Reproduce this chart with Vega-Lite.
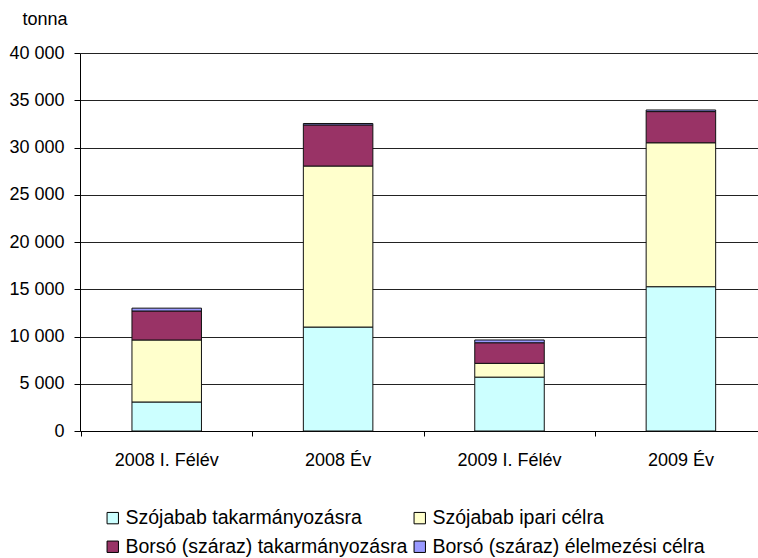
{
  "$schema": "https://vega.github.io/schema/vega-lite/v6.json",
  "width": 678,
  "height": 378,
  "autosize": {"type": "none"},
  "padding": {"left": 80, "top": 53, "right": 0, "bottom": 127},
  "background": "white",
  "config": {
    "view": {"stroke": null},
    "font": "Liberation Sans"
  },
  "data": {
    "values": [
      {"cat": "2008 I. Félév", "series": "Szójabab takarmányozásra", "ord": 1, "value": 3070},
      {"cat": "2008 I. Félév", "series": "Szójabab ipari célra", "ord": 2, "value": 6560},
      {"cat": "2008 I. Félév", "series": "Borsó (száraz) takarmányozásra", "ord": 3, "value": 3070},
      {"cat": "2008 I. Félév", "series": "Borsó (száraz) élelmezési célra", "ord": 4, "value": 300},
      {"cat": "2008 Év", "series": "Szójabab takarmányozásra", "ord": 1, "value": 11000},
      {"cat": "2008 Év", "series": "Szójabab ipari célra", "ord": 2, "value": 17040},
      {"cat": "2008 Év", "series": "Borsó (száraz) takarmányozásra", "ord": 3, "value": 4350},
      {"cat": "2008 Év", "series": "Borsó (száraz) élelmezési célra", "ord": 4, "value": 150},
      {"cat": "2009 I. Félév", "series": "Szójabab takarmányozásra", "ord": 1, "value": 5700},
      {"cat": "2009 I. Félév", "series": "Szójabab ipari célra", "ord": 2, "value": 1460},
      {"cat": "2009 I. Félév", "series": "Borsó (száraz) takarmányozásra", "ord": 3, "value": 2180},
      {"cat": "2009 I. Félév", "series": "Borsó (száraz) élelmezési célra", "ord": 4, "value": 290},
      {"cat": "2009 Év", "series": "Szójabab takarmányozásra", "ord": 1, "value": 15270},
      {"cat": "2009 Év", "series": "Szójabab ipari célra", "ord": 2, "value": 15230},
      {"cat": "2009 Év", "series": "Borsó (száraz) takarmányozásra", "ord": 3, "value": 3300},
      {"cat": "2009 Év", "series": "Borsó (száraz) élelmezési célra", "ord": 4, "value": 170}
    ]
  },
  "encoding": {
    "y": {
      "field": "value",
      "type": "quantitative",
      "stack": "zero",
      "scale": {"domain": [0, 40000]},
      "axis": {
        "title": "tonna",
        "titleAngle": 0,
        "titleFontSize": 18,
        "titleFontWeight": "normal",
        "titleColor": "#000",
        "titleAlign": "left",
        "titleBaseline": "alphabetic",
        "titleX": -58,
        "titleY": -29,
        "values": [0, 5000, 10000, 15000, 20000, 25000, 30000, 35000, 40000],
        "labelExpr": "replace(format(datum.value, ','), ',', ' ')",
        "labelFontSize": 18,
        "labelColor": "#000",
        "labelPadding": 10,
        "tickSize": 6,
        "tickColor": "#000",
        "domainColor": "#000",
        "grid": true,
        "gridColor": "#222",
        "gridWidth": 1
      }
    }
  },
  "layer": [
    {
      "mark": {"type": "bar", "stroke": "#111", "strokeWidth": 1},
      "encoding": {
        "x": {
          "field": "cat",
          "type": "nominal",
          "sort": null,
          "scale": {"paddingInner": 0.5945, "paddingOuter": 0.2751, "align": 0.551},
          "axis": {
            "orient": "bottom",
            "title": null,
            "labelAngle": 0,
            "labelFontSize": 18,
            "labelColor": "#000",
            "labelPadding": 20,
            "ticks": false,
            "domain": true,
            "domainColor": "#000",
            "domainWidth": 1
          }
        },
        "color": {
          "field": "series",
          "type": "nominal",
          "scale": {
            "domain": ["Szójabab takarmányozásra", "Szójabab ipari célra", "Borsó (száraz) takarmányozásra", "Borsó (száraz) élelmezési célra"],
            "range": ["#CCFFFF", "#FFFFCC", "#993366", "#9999FF"]
          },
          "legend": {
            "title": null,
            "orient": "none",
            "direction": "horizontal",
            "legendX": 23,
            "legendY": 455,
            "columns": 2,
            "columnPadding": 2,
            "rowPadding": 8,
            "symbolType": "square",
            "symbolSize": 130,
            "symbolStrokeColor": "#000",
            "symbolStrokeWidth": 1,
            "labelFontSize": 19.5,
            "labelColor": "#000",
            "labelOffset": 3,
            "labelLimit": 400
          }
        },
        "order": {"field": "ord", "type": "quantitative"}
      }
    },
    {
      "mark": {"type": "bar", "opacity": 0},
      "encoding": {
        "x": {
          "field": "cat",
          "type": "nominal",
          "sort": null,
          "axis": {
            "orient": "bottom",
            "title": null,
            "labels": false,
            "domain": false,
            "grid": false,
            "ticks": true,
            "tickSize": 5,
            "tickColor": "#000",
            "tickOffset": -85.7
          }
        }
      }
    }
  ],
  "resolve": {"axis": {"x": "independent"}}
}
